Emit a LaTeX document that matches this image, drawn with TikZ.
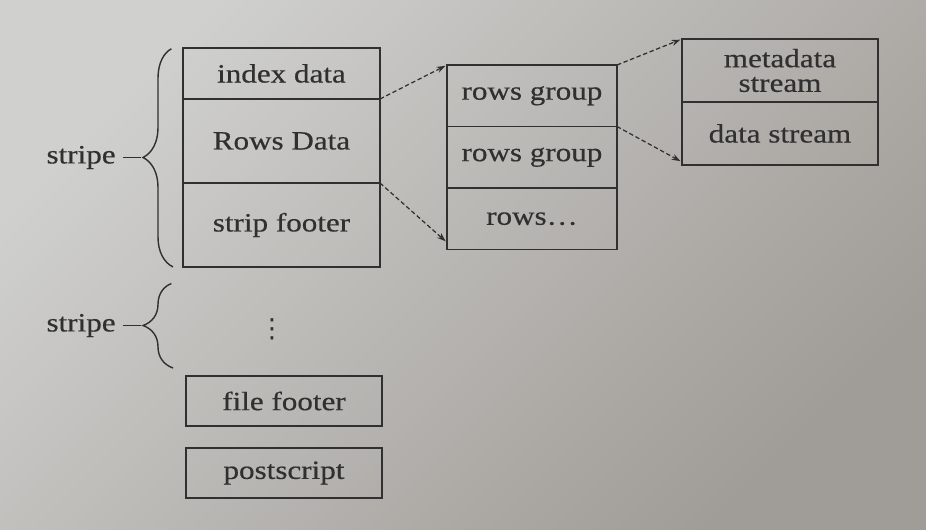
\documentclass[tikz,border=0pt]{standalone}
\usepackage{fontspec}
\setmainfont{Liberation Serif}[FakeStretch=1.18,FakeBold=0.5]
\newfontfamily\symfont{DejaVu Sans}
\usepackage{xcolor}
\usetikzlibrary{positioning,arrows.meta,calc,decorations.pathreplacing}
\definecolor{ink}{RGB}{48,48,48}
\definecolor{paperlt}{RGB}{208,208,206}
\definecolor{papermd}{RGB}{203,202,200}
\definecolor{paperdk}{RGB}{160,156,151}
\tikzset{
  >=Stealth,
  shorten >=1pt,
}

\begin{document}
\begin{tikzpicture}[
x=0.02cm,y=-0.02cm,
cell/.style={draw=ink,line width=1.1pt,outer sep=0pt,inner sep=0pt,text=ink,
  font=\fontsize{15}{17}\selectfont,align=center},
wide/.style={cell,minimum width=3.94cm},
narrow/.style={cell,minimum width=3.4cm,minimum height=1.23cm},
lbl/.style={text=ink,inner sep=4pt,font=\fontsize{15}{17}\selectfont},
dlink/.style={->,draw=ink,line width=0.7pt,dash pattern=on 2.5pt off 1.5pt,
  >={Stealth[length=5pt,width=3.5pt]}},
brc/.style={draw=ink,line width=0.8pt,decorate,decoration={brace,amplitude=0.6cm}}
]
% page
\shade[top color=paperlt,middle color=papermd,bottom color=paperdk,shading angle=45]
  (0,0) rectangle (926,529);
\useasboundingbox (0,0) rectangle (926,529);

% stripe
\node[wide,minimum height=1.02cm,anchor=north west] (idx) at (183,48) {index data};
\node[wide,minimum height=1.68cm,below=0pt of idx] (rows) {Rows Data};
\node[wide,minimum height=1.68cm,below=0pt of rows] (sfoot) {strip footer};

% rows groups
\node[narrow,anchor=north west] (rg1) at (447,65) {rows group};
\node[narrow,below=0pt of rg1] (rg2) {rows group};
\node[narrow,below=0pt of rg2] (rg3) {rows\ldots};

% streams
\node[wide,minimum width=3.92cm,minimum height=1.26cm,anchor=north west] (meta) at (682,39) {metadata\\[-3pt]stream};
\node[wide,minimum width=3.92cm,minimum height=1.26cm,below=0pt of meta] (dstream) {data stream};

% other stripes and footers
\node[lbl,font=\symfont\fontsize{15}{17}\selectfont] (dots) at (272,329) {⋮};
\node[wide,minimum width=3.92cm,minimum height=1.0cm,anchor=north west] (ffoot) at (186,376) {file footer};
\node[wide,minimum width=3.92cm,minimum height=1.0cm,below=0.44cm of ffoot] (pscript) {postscript};

% braces
\draw[brc] ([xshift=-0.2cm]sfoot.south west) -- ([xshift=-0.2cm]idx.north west);
\coordinate (tip1) at ($(idx.north west)!0.5!(sfoot.south west)+(-0.8cm,0)$);
\node[lbl,left=0.4cm of tip1] (stripe1) {stripe};
\draw[ink,line width=0.8pt] (stripe1.east) -- (tip1);

\coordinate (b2t) at (173,283);
\coordinate (b2b) at (173,368);
\draw[brc] (b2b) -- (b2t);
\coordinate (tip2) at ($(b2t)!0.5!(b2b)+(-0.6cm,0)$);
\node[lbl,left=0.4cm of tip2] (stripe2) {stripe};
\draw[ink,line width=0.8pt] (stripe2.east) -- (tip2);

% links
\draw[dlink] (idx.south east) -- (rg1.north west);
\draw[dlink] (rows.south east) -- ([yshift=0.14cm]rg3.south west);
\draw[dlink] (rg1.north east) -- (meta.north west);
\draw[dlink] (rg1.south east) -- ([yshift=0.06cm]dstream.south west);
\end{tikzpicture}
\end{document}
